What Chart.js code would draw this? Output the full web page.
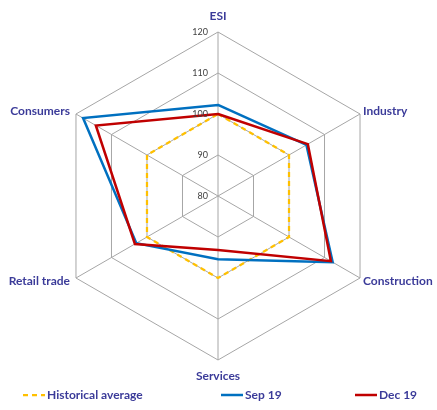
<!DOCTYPE html>
<html>
<head>
<meta charset="utf-8">
<script src="https://cdn.jsdelivr.net/npm/chart.js@4.4.1/dist/chart.umd.min.js"></script>
<style>
  html, body { margin: 0; padding: 0; background: #fff; }
</style>
</head>
<body>
<canvas id="radar" width="437" height="410"></canvas>
<script>
// Axes of the radar and the three series
const axes = ['ESI', 'Industry', 'Construction', 'Services', 'Retail trade', 'Consumers'];
const historicalAverage = [100, 100, 100, 100, 100, 100];
const sep19 = [102.2, 104.9, 112.3, 95.4, 103.0, 118.0];
const dec19 = [100.0, 105.3, 111.8, 93.2, 103.4, 114.4];
const tickValues = [80, 90, 100, 110, 120];
const seriesNames = ['Historical average', 'Sep 19', 'Dec 19'];

const labelColor = '#3b3b99';
const gridColor = '#a6a6a6';

// Axis names, tick values and the legend row are drawn by hand
const radarText = {
    id: 'radarText',
    afterDraw(chart) {
        const ctx = chart.ctx;
        const r = chart.scales.r;
        ctx.save();

        // tick values next to the ESI spoke
        ctx.font = '9px Lato';
        ctx.fillStyle = '#404040';
        ctx.textAlign = 'right';
        ctx.textBaseline = 'middle';
        tickValues.forEach(v => {
            const y = r.yCenter - r.getDistanceFromCenterForValue(v);
            ctx.fillText(String(v), r.xCenter - 10, y);
        });

        // axis names around the outer ring
        ctx.font = 'bold 12px Lato';
        ctx.fillStyle = labelColor;
        axes.forEach((name, i) => {
            const p = r.getPointPosition(i, r.drawingArea);
            const dx = p.x - r.xCenter;
            const dy = p.y - r.yCenter;
            if (Math.abs(dx) < 1) {
                ctx.textAlign = 'center';
                ctx.fillText(name, p.x, p.y + (dy < 0 ? -16 : 16));
            } else {
                ctx.textAlign = dx > 0 ? 'left' : 'right';
                ctx.fillText(name, p.x + (dx > 0 ? 3 : -6), p.y + (dy < 0 ? -3 : 3));
            }
        });

        // legend row
        const legendY = 395;
        const legendX = [23, 221, 355];
        ctx.textAlign = 'left';
        chart.data.datasets.forEach((ds, i) => {
            const x = legendX[i];
            ctx.beginPath();
            ctx.setLineDash(ds.borderDash || []);
            ctx.lineWidth = ds.borderWidth;
            ctx.strokeStyle = ds.borderColor;
            ctx.moveTo(x, legendY);
            ctx.lineTo(x + 22, legendY);
            ctx.stroke();
            ctx.setLineDash([]);
            ctx.fillText(ds.label, x + 24, legendY);
        });

        ctx.restore();
    }
};

Chart.defaults.font.family = 'Lato';

new Chart(document.getElementById('radar'), {
    type: 'radar',
    data: {
        labels: axes,
        datasets: [
            {
                label: seriesNames[0],
                data: historicalAverage,
                borderColor: '#ffc000',
                borderDash: [5, 4],
                borderWidth: 2.25,
                order: 3
            },
            {
                label: seriesNames[1],
                data: sep19,
                borderColor: '#0070c0',
                borderWidth: 2.5,
                order: 2
            },
            {
                label: seriesNames[2],
                data: dec19,
                borderColor: '#c00000',
                borderWidth: 2.5,
                order: 1
            }
        ]
    },
    options: {
        responsive: false,
        animation: false,
        layout: { padding: { top: 32, bottom: 50, left: 0, right: 0 } },
        elements: {
            point: { radius: 0, hoverRadius: 0 },
            line: { tension: 0, fill: false }
        },
        plugins: {
            legend: { display: false },
            tooltip: { enabled: false }
        },
        scales: {
            r: {
                min: 80,
                max: 120,
                ticks: { display: false, stepSize: 10 },
                pointLabels: { display: false },
                grid: { color: gridColor, lineWidth: 1 },
                angleLines: { color: gridColor, lineWidth: 1 }
            }
        }
    },
    plugins: [radarText]
});
</script>
</body>
</html>
